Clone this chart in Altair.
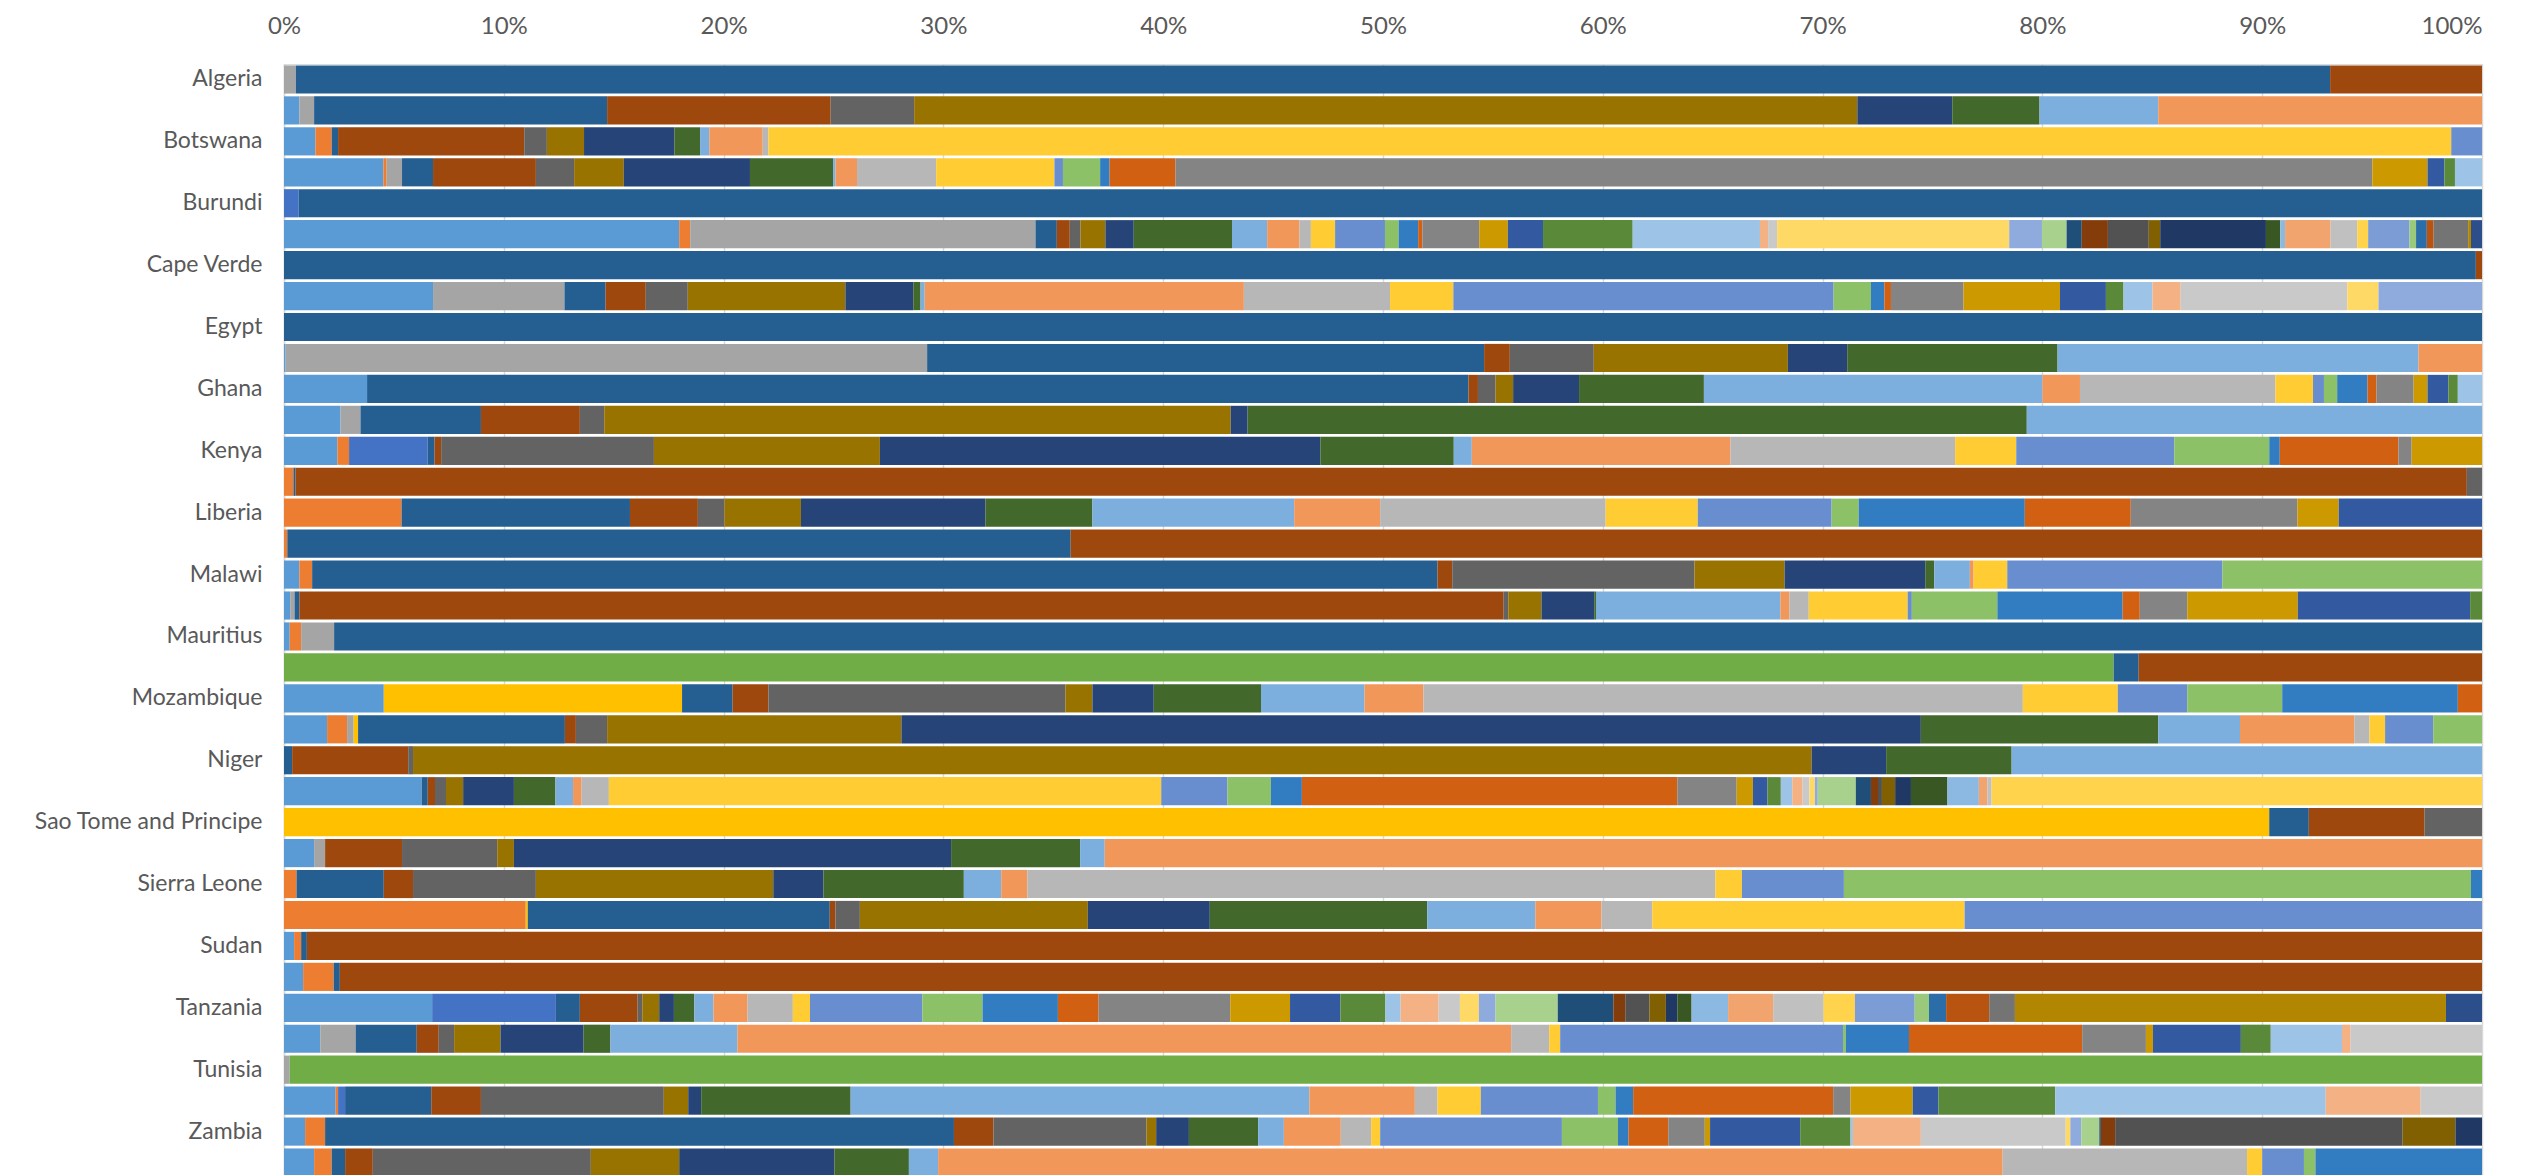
import colorsys
import altair as alt
import pandas as pd

# ---------------- data (percent share of each group, stacked in group order) ----------------
countries = ["Algeria", "Benin", "Botswana", "Burkina Faso", "Burundi", "Cameroon",
             "Cape Verde", "Cote d'Ivoire", "Egypt", "Gabon", "Ghana", "Guinea",
             "Kenya", "Lesotho", "Liberia", "Madagascar", "Malawi", "Mali",
             "Mauritius", "Morocco", "Mozambique", "Namibia", "Niger", "Nigeria",
             "Sao Tome and Principe", "Senegal", "Sierra Leone", "South Africa",
             "Sudan", "Swaziland", "Tanzania", "Togo", "Tunisia", "Uganda",
             "Zambia", "Zimbabwe"]
labeled = countries[::2]

algeria = [(3, 0.54), (7, 92.55), (8, 6.91)]
benin = [(1, 0.70), (3, 0.67), (7, 13.33), (8, 10.17), (9, 3.80), (10, 42.91), (11, 4.32),
         (12, 3.97), (13, 5.40), (14, 14.73)]
botswana = [(1, 1.43), (2, 0.74), (7, 0.29), (8, 8.47), (9, 1.03), (10, 1.69), (11, 4.11),
            (12, 1.17), (13, 0.42), (14, 2.43), (15, 0.26), (16, 76.56), (17, 1.40)]
burkina_faso = [(1, 4.52), (2, 0.15), (3, 0.70), (7, 1.41), (8, 4.68), (9, 1.74), (10, 2.26),
                (11, 5.74), (12, 3.78), (13, 0.11), (14, 0.98), (15, 3.60), (16, 5.38),
                (17, 0.39), (18, 1.69), (19, 0.43), (20, 3.00), (21, 54.45), (22, 2.51),
                (23, 0.77), (24, 0.48), (25, 1.23)]
burundi = [(5, 0.67), (7, 99.33)]
cameroon = [(1, 17.98), (2, 0.50), (3, 15.71), (7, 0.97), (8, 0.59), (9, 0.49), (10, 1.13),
            (11, 1.29), (12, 4.47), (13, 1.60), (14, 1.47), (15, 0.52), (16, 1.10), (17, 2.27),
            (18, 0.62), (19, 0.89), (20, 0.19), (21, 2.59), (22, 1.30), (23, 1.60), (24, 4.08),
            (25, 5.79), (26, 0.37), (27, 0.41), (28, 10.56), (29, 1.49), (30, 1.12), (31, 0.69),
            (32, 1.19), (33, 1.86), (34, 0.52), (35, 4.81), (36, 0.65), (37, 0.22), (38, 2.07),
            (39, 1.21), (40, 0.50), (41, 1.88), (42, 0.30), (43, 0.49), (44, 0.31), (45, 1.57),
            (46, 0.13), (47, 0.50)]
cape_verde = [(7, 99.72), (8, 0.28)]
cote_divoire = [(1, 6.78), (3, 5.98), (7, 1.87), (8, 1.83), (9, 1.91), (10, 7.17), (11, 3.09),
                (12, 0.33), (13, 0.19), (14, 14.52), (15, 6.65), (16, 2.88), (17, 17.30),
                (18, 1.70), (19, 0.61), (20, 0.30), (21, 3.30), (22, 4.39), (23, 2.09),
                (24, 0.80), (25, 1.32), (26, 1.28), (27, 7.58), (28, 1.42), (29, 4.71)]
egypt = [(7, 100.0)]
gabon = [(1, 0.07), (3, 29.19), (7, 25.34), (8, 1.17), (9, 3.82), (10, 8.83), (11, 2.70),
         (12, 9.57), (13, 16.42), (14, 2.89)]
ghana = [(1, 3.78), (7, 50.11), (8, 0.43), (9, 0.80), (10, 0.80), (11, 3.00), (12, 5.68),
         (13, 15.40), (14, 1.71), (15, 8.89), (16, 1.71), (17, 0.50), (18, 0.60), (19, 1.38),
         (20, 0.41), (21, 1.69), (22, 0.63), (23, 0.95), (24, 0.43), (25, 1.10)]
guinea = [(1, 2.57), (3, 0.91), (7, 5.48), (8, 4.50), (9, 1.11), (10, 28.50), (11, 0.77),
          (12, 35.45), (13, 20.71)]
kenya = [(1, 2.43), (2, 0.53), (5, 3.58), (7, 0.31), (8, 0.30), (9, 9.68), (10, 10.28),
         (11, 20.04), (12, 6.07), (13, 0.82), (14, 11.77), (15, 10.22), (16, 2.78), (17, 7.19),
         (18, 4.32), (19, 0.48), (20, 5.40), (21, 0.60), (22, 3.20)]
lesotho = [(2, 0.43), (7, 0.09), (8, 98.79), (9, 0.69)]
liberia = [(2, 5.35), (7, 10.39), (8, 3.09), (9, 1.21), (10, 3.48), (11, 8.39), (12, 4.87),
           (13, 9.18), (14, 3.91), (15, 10.26), (16, 4.19), (17, 6.09), (18, 1.23), (19, 7.56),
           (20, 4.82), (21, 7.58), (22, 1.88), (23, 6.52)]
madagascar = [(2, 0.15), (7, 35.64), (8, 64.21)]
malawi = [(1, 0.70), (2, 0.58), (7, 51.20), (8, 0.67), (9, 11.02), (10, 4.10), (11, 6.40),
          (12, 0.41), (13, 1.62), (14, 0.17), (16, 1.53), (17, 9.79), (18, 11.81)]
mali = [(1, 0.28), (3, 0.20), (7, 0.22), (8, 54.79), (9, 0.21), (10, 1.51), (11, 2.40),
        (12, 0.08), (13, 8.39), (14, 0.41), (15, 0.88), (16, 4.50), (17, 0.19), (18, 3.89),
        (19, 5.70), (20, 0.78), (21, 2.16), (22, 5.03), (23, 7.84), (24, 0.54)]
mauritius = [(1, 0.26), (2, 0.52), (3, 1.50), (7, 97.72)]
morocco = [(6, 83.24), (7, 1.14), (8, 15.62)]
mozambique = [(1, 4.54), (4, 13.57), (7, 2.30), (8, 1.63), (9, 13.51), (10, 1.23), (11, 2.79),
              (12, 4.88), (13, 4.71), (14, 2.68), (15, 27.27), (16, 4.32), (17, 3.16),
              (18, 4.32), (19, 7.99), (20, 1.10)]
namibia = [(1, 1.96), (2, 0.91), (3, 0.30), (4, 0.20), (7, 9.41), (8, 0.50), (9, 1.42),
           (10, 13.39), (11, 46.38), (12, 10.80), (13, 3.72), (14, 5.20), (15, 0.69),
           (16, 0.71), (17, 2.19), (18, 2.22)]
niger = [(7, 0.37), (8, 5.28), (9, 0.22), (10, 63.63), (11, 3.39), (12, 5.71), (13, 21.40)]
nigeria = [(1, 6.26), (7, 0.28), (8, 0.33), (9, 0.50), (10, 0.78), (11, 2.31), (12, 1.89),
           (13, 0.80), (14, 0.39), (15, 1.24), (16, 25.13), (17, 3.01), (18, 1.98), (19, 1.41),
           (20, 17.08), (21, 2.70), (22, 0.74), (23, 0.66), (24, 0.61), (25, 0.52), (26, 0.47),
           (27, 0.31), (28, 0.25), (29, 0.13), (30, 1.73), (31, 0.69), (32, 0.32), (33, 0.18),
           (34, 0.60), (35, 0.72), (36, 1.66), (37, 1.43), (38, 0.39), (39, 0.19), (40, 22.31)]
sao_tome = [(4, 90.32), (7, 1.80), (8, 5.27), (9, 2.61)]
senegal = [(1, 1.37), (3, 0.50), (8, 3.50), (9, 4.33), (10, 0.76), (11, 19.89), (12, 5.87),
           (13, 1.12), (14, 62.66)]
sierra_leone = [(2, 0.57), (7, 3.97), (8, 1.33), (9, 5.59), (10, 10.80), (11, 2.28), (12, 6.39),
                (13, 1.70), (14, 1.19), (15, 31.30), (16, 1.21), (17, 4.64), (18, 28.53),
                (19, 0.50)]
south_africa = [(2, 11.00), (4, 0.09), (7, 13.74), (8, 0.26), (9, 1.11), (10, 10.37),
                (11, 5.55), (12, 9.89), (13, 4.92), (14, 3.01), (15, 2.31), (16, 14.21),
                (17, 23.54)]
sudan = [(1, 0.46), (2, 0.32), (7, 0.26), (8, 98.96)]
swaziland = [(1, 0.87), (2, 1.39), (7, 0.28), (8, 97.46)]
tanzania = [(1, 6.74), (5, 5.63), (7, 1.09), (8, 2.63), (9, 0.21), (10, 0.77), (11, 0.67),
            (12, 0.93), (13, 0.87), (14, 1.55), (15, 2.06), (16, 0.78), (17, 5.11), (18, 2.74),
            (19, 3.43), (20, 1.85), (21, 5.99), (22, 2.72), (23, 2.29), (24, 2.05), (25, 0.69),
            (26, 1.73), (27, 0.97), (28, 0.86), (29, 0.76), (30, 2.83), (31, 2.53), (32, 0.54),
            (33, 1.10), (34, 0.75), (35, 0.52), (36, 0.65), (37, 1.66), (38, 2.05), (39, 2.29),
            (40, 1.43), (41, 2.72), (42, 0.65), (43, 0.78), (44, 1.96), (45, 1.17), (46, 19.61),
            (47, 1.64)]
togo = [(1, 1.65), (3, 1.61), (7, 2.78), (8, 1.00), (9, 0.70), (10, 2.11), (11, 3.78),
        (12, 1.22), (13, 5.78), (14, 35.20), (15, 1.73), (16, 0.50), (17, 12.87), (18, 0.13),
        (19, 2.87), (20, 7.88), (21, 2.90), (22, 0.32), (23, 4.00), (24, 1.36), (25, 3.24),
        (26, 0.39), (27, 5.98)]
tunisia = [(3, 0.26), (6, 99.74)]
uganda = [(1, 2.35), (2, 0.11), (5, 0.32), (7, 3.92), (8, 2.26), (9, 8.32), (10, 1.11),
          (11, 0.59), (12, 6.80), (13, 20.87), (14, 4.80), (15, 1.03), (16, 1.97), (17, 5.33),
          (18, 0.80), (19, 0.80), (20, 9.10), (21, 0.79), (22, 2.83), (23, 1.17), (24, 5.31),
          (25, 12.31), (26, 4.32), (27, 2.79)]
zambia = [(1, 0.96), (2, 0.91), (7, 28.61), (8, 1.80), (9, 6.96), (10, 0.44), (11, 1.49),
          (12, 3.15), (13, 1.17), (14, 2.59), (15, 1.38), (16, 0.41), (17, 8.27), (18, 2.55),
          (19, 0.48), (20, 1.81), (21, 1.66), (22, 0.24), (23, 4.10), (24, 2.29), (25, 0.11),
          (26, 3.09), (27, 6.59), (28, 0.21), (29, 0.50), (30, 0.82), (31, 0.07), (32, 0.65),
          (33, 13.08), (34, 2.40), (35, 1.21)]
zimbabwe = [(1, 1.37), (2, 0.80), (7, 0.61), (8, 1.26), (9, 9.92), (10, 4.02), (11, 7.06),
            (12, 3.39), (13, 1.33), (14, 48.43), (15, 11.12), (16, 0.69), (17, 1.90),
            (18, 0.52), (19, 7.58)]

rows = [algeria, benin, botswana, burkina_faso, burundi, cameroon, cape_verde, cote_divoire,
        egypt, gabon, ghana, guinea, kenya, lesotho, liberia, madagascar, malawi, mali,
        mauritius, morocco, mozambique, namibia, niger, nigeria, sao_tome, senegal,
        sierra_leone, south_africa, sudan, swaziland, tanzania, togo, tunisia, uganda,
        zambia, zimbabwe]

records = []
for name, segs in zip(countries, rows):
    for s, v in segs:
        records.append({"country": name, "series": s, "value": v})
df = pd.DataFrame(records)

# ---------------- Office-style series palette ----------------
accents = ["#5B9BD5", "#ED7D31", "#A5A5A5", "#FFC000", "#4472C4", "#70AD47"]
variations = [(1.0, 0.0), (0.6, 0.0), (0.8, 0.2), (0.8, 0.0), (0.6, 0.4),
              (0.5, 0.0), (0.7, 0.3), (0.7, 0.0), (0.5, 0.5)]


def vary(hx, mod, off):
    r, g, b = (int(hx[i:i + 2], 16) / 255 for i in (1, 3, 5))
    h, l, s = colorsys.rgb_to_hls(r, g, b)
    l = min(1.0, l * mod + off)
    r, g, b = colorsys.hls_to_rgb(h, l, s)
    return "#%02x%02x%02x" % (round(r * 255), round(g * 255), round(b * 255))


palette = [vary(a, m, o) for (m, o) in variations for a in accents]
n_series = int(df["series"].max())
series_domain = list(range(1, n_series + 1))

FONT = "Lato"
TEXT = "#595959"

chart = alt.Chart(df).mark_bar().encode(
    y=alt.Y("country:N", sort=countries, title=None,
            scale=alt.Scale(paddingInner=0.09, paddingOuter=0.045),
            axis=alt.Axis(values=labeled, ticks=False, domain=True, domainColor="#d9d9d9",
                          domainWidth=1.5, labelPadding=22, labelFontSize=23,
                          labelColor=TEXT, labelFont=FONT, labelLimit=500, grid=False)),
    x=alt.X("value:Q", stack="normalize", title=None,
            scale=alt.Scale(domain=[0, 1], nice=False),
            axis=alt.Axis(orient="top", format=".0%", values=[i / 10 for i in range(11)],
                          ticks=False, domain=False, grid=True, gridColor="#d9d9d9",
                          gridWidth=1.5, labelFontSize=24, labelColor=TEXT, labelFont=FONT,
                          labelPadding=26, labelFlush=False,
                          labelAlign=alt.expr("datum.value >= 1 ? 'right' : 'center'"))),
    color=alt.Color("series:O", scale=alt.Scale(domain=series_domain,
                                                range=palette[:n_series]), legend=None),
    order=alt.Order("series:Q", sort="ascending"),
).properties(
    width=2198, height=1114,
    autosize=alt.AutoSizeParams(type="none"),
    padding={"left": 276, "top": 56, "right": 40, "bottom": 0},
).configure_view(stroke=None).configure(background="white")

chart.save("out.html", embed_options={"renderer": "svg", "actions": False})
